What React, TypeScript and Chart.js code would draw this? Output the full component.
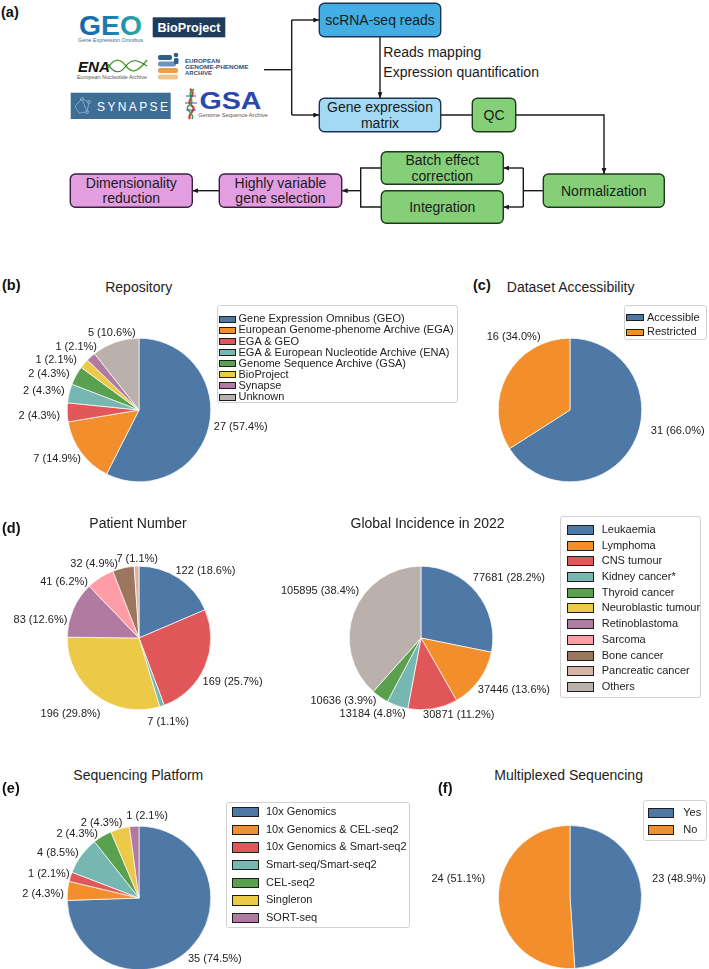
import React, { useEffect, useRef } from "react";
import { Chart, registerables } from "chart.js";

Chart.register(...registerables);

const FONT = '"Liberation Sans", Arial, Helvetica, sans-serif';
const TXT = "#222222";

const C = {
  blue: "#4e79a7",
  orange: "#f28e2b",
  red: "#e15759",
  teal: "#76b7b2",
  green: "#59a14f",
  yellow: "#edc948",
  purple: "#b07aa1",
  pink: "#ff9da7",
  brown: "#9c755f",
  tan: "#d7b5a6",
  gray: "#bab0ac",
};

// ---------- data ----------
const repoLabels = [
  "Gene Expression Omnibus (GEO)",
  "European Genome-phenome Archive (EGA)",
  "EGA & GEO",
  "EGA & European Nucleotide Archive (ENA)",
  "Genome Sequence Archive (GSA)",
  "BioProject",
  "Synapse",
  "Unknown",
];
const repoValues = [27, 7, 2, 2, 2, 1, 1, 5];
const repoColors = [C.blue, C.orange, C.red, C.teal, C.green, C.yellow, C.purple, C.gray];

const accessLabels = ["Accessible", "Restricted"];
const accessValues = [31, 16];
const accessColors = [C.blue, C.orange];

const cancerLabels = [
  "Leukaemia",
  "Lymphoma",
  "CNS tumour",
  "Kidney cancer*",
  "Thyroid cancer",
  "Neuroblastic tumour",
  "Retinoblastoma",
  "Sarcoma",
  "Bone cancer",
  "Pancreatic cancer",
  "Others",
];
const patientValues = [122, 0, 169, 7, 0, 196, 83, 41, 32, 7, 0];
const incidenceValues = [77681, 37446, 30871, 13184, 10636, 0, 0, 0, 0, 0, 105895];
const cancerColors = [C.blue, C.orange, C.red, C.teal, C.green, C.yellow, C.purple, C.pink, C.brown, C.tan, C.gray];

const platformLabels = [
  "10x Genomics",
  "10x Genomics & CEL-seq2",
  "10x Genomics & Smart-seq2",
  "Smart-seq/Smart-seq2",
  "CEL-seq2",
  "Singleron",
  "SORT-seq",
];
const platformValues = [35, 2, 1, 4, 2, 2, 1];
const platformColors = [C.blue, C.orange, C.red, C.teal, C.green, C.yellow, C.purple];

const multiplexLabels = ["Yes", "No"];
const multiplexValues = [23, 24];
const multiplexColors = [C.blue, C.orange];

// label nudges (px) from the default 1.1*r label position
const repoNudge = [[-2, -1], [5.6, 2.5], [0, 3], [2.5, -0.7], [0, 2], [-1.7, 1], [11, -4.8], [22.5, -2.7]];
const accessNudge = [[11.5, -17], [39.8, -35]];
const patientNudge = [[-7, -1.6], [0, 0], [-9, 13], [-17, 9.4], [0, 0], [9, 12.8], [0.8, 13.8], [-8.5, 10.7], [-3.8, 3.5], [21.6, 0], [0, 0]];
const incidenceNudge = [[-9.3, -9.7], [-7.2, 5.4], [-11, -0.6], [10.6, 1], [0.6, -1.5], [0, 0], [0, 0], [0, 0], [0, 0], [0, 0], [12, -18.5]];
const platformNudge = [[-7.8, 6.5], [3.5, 4], [6, -1], [3.2, 1.8], [-0.8, 3.5], [4.2, 0.7], [34.2, -3]];
const multiplexNudge = [[3.3, -15.4], [-6, -20.6]];

// ---------- pie label plugin ----------
const pieLabelPlugin = {
  id: "pieLabels",
  afterDatasetsDraw(chart: any, _args: any, opts: any) {
    const meta = chart.getDatasetMeta(0);
    const data = chart.data.datasets[0].data as number[];
    const total = data.reduce((a: number, b: number) => a + b, 0);
    const ctx = chart.ctx;
    ctx.save();
    ctx.font = `${opts.fontSize || 11}px ${FONT}`;
    ctx.fillStyle = TXT;
    ctx.textBaseline = "middle";
    meta.data.forEach((arc: any, i: number) => {
      const v = data[i];
      if (!v) return;
      const p = arc.getProps(["x", "y", "startAngle", "endAngle", "outerRadius"], true);
      const mid = (p.startAngle + p.endAngle) / 2;
      const R = p.outerRadius * 1.1;
      const px = p.x + Math.cos(mid) * R;
      const py = p.y + Math.sin(mid) * R;
      const nd = (opts.nudges && opts.nudges[i]) || [0, 0];
      ctx.textAlign = Math.cos(mid) >= 0 ? "left" : "right";
      ctx.fillText(`${v} (${((v / total) * 100).toFixed(1)}%)`, px + nd[0], py + nd[1]);
    });
    ctx.restore();
  },
};

type PieProps = {
  cx: number;
  cy: number;
  r: number;
  w: number;
  h: number;
  labels: string[];
  values: number[];
  colors: string[];
  nudges: number[][];
  fontSize?: number;
};

function PieChart({ cx, cy, r, w, h, labels, values, colors, nudges, fontSize }: PieProps) {
  const ref = useRef<HTMLCanvasElement>(null);
  const left = Math.round(cx - w / 2);
  const top = Math.round(cy - h / 2);
  useEffect(() => {
    const chart = new Chart(ref.current as HTMLCanvasElement, {
      type: "pie",
      data: {
        labels,
        datasets: [
          {
            data: values,
            backgroundColor: colors,
            borderColor: "#ffffff",
            borderWidth: 0.7,
          },
        ],
      },
      options: {
        responsive: false,
        maintainAspectRatio: false,
        animation: false,
        devicePixelRatio: 1,
        events: [],
        radius: r,
        layout: { padding: 0 },
        plugins: {
          legend: { display: false },
          tooltip: { enabled: false },
          title: { display: false },
          pieLabels: { nudges, fontSize: fontSize || 11 },
        },
      } as any,
      plugins: [pieLabelPlugin as any],
    });
    return () => chart.destroy();
  }, []);
  return (
    <canvas
      ref={ref}
      width={w}
      height={h}
      style={{ position: "absolute", left, top, width: w, height: h }}
    />
  );
}

// ---------- legend ----------
type LegendProps = {
  x0: number;
  y0: number;
  x1: number;
  y1: number;
  labels: string[];
  colors: string[];
  firstY: number;
  spacing: number;
  patchX: number;
  patchW: number;
  patchH: number;
  textX: number;
  fontSize: number;
};

function Legend(p: LegendProps) {
  return (
    <div
      style={{
        position: "absolute",
        left: p.x0,
        top: p.y0,
        width: p.x1 - p.x0,
        height: p.y1 - p.y0,
        boxSizing: "border-box",
        border: "1px solid #d2d2d2",
        borderRadius: 3,
        background: "rgba(255,255,255,0.9)",
      }}
    >
      {p.labels.map((lab, i) => {
        const yc = p.firstY + i * p.spacing - p.y0;
        return (
          <React.Fragment key={lab}>
            <div
              style={{
                position: "absolute",
                left: p.patchX - p.x0 - 1,
                top: yc - p.patchH / 2 - 1,
                width: p.patchW,
                height: p.patchH,
                background: p.colors[i],
                border: "1px solid #1e1e1e",
              }}
            />
            <div
              style={{
                position: "absolute",
                left: p.textX - p.x0 - 1,
                top: yc - 8 - 1,
                height: 16,
                lineHeight: "16px",
                fontSize: p.fontSize,
                fontFamily: FONT,
                color: TXT,
                whiteSpace: "nowrap",
              }}
            >
              {lab}
            </div>
          </React.Fragment>
        );
      })}
    </div>
  );
}

function Title({ x, y, text }: { x: number; y: number; text: string }) {
  return (
    <div
      style={{
        position: "absolute",
        left: x,
        top: y - 9,
        transform: "translateX(-50%)",
        fontFamily: FONT,
        fontSize: 14,
        lineHeight: "18px",
        color: TXT,
        whiteSpace: "nowrap",
      }}
    >
      {text}
    </div>
  );
}

function PanelLetter({ x, y, text }: { x: number; y: number; text: string }) {
  return (
    <div
      style={{
        position: "absolute",
        left: x,
        top: y - 9,
        fontFamily: FONT,
        fontWeight: "bold",
        fontSize: 14.5,
        lineHeight: "18px",
        color: "#111",
        whiteSpace: "nowrap",
      }}
    >
      {text}
    </div>
  );
}

// ---------- flowchart (panel a) ----------
type BoxDef = { x: number; y: number; w: number; h: number; fill: string; stroke: string; lines: string[] };
const boxes: BoxDef[] = [
  { x: 319.3, y: 3.3, w: 121.4, h: 33.4, fill: "#42aee4", stroke: "#1d3550", lines: ["scRNA-seq reads"] },
  { x: 319.3, y: 98.3, w: 121.4, h: 33.4, fill: "#a4d9f4", stroke: "#1d3550", lines: ["Gene expression", "matrix"] },
  { x: 472.3, y: 98.3, w: 43.4, h: 33.4, fill: "#84cf78", stroke: "#1c3a1c", lines: ["QC"] },
  { x: 543.3, y: 174, w: 121, h: 33.3, fill: "#84cf78", stroke: "#1c3a1c", lines: ["Normalization"] },
  { x: 381.3, y: 151.7, w: 122, h: 32.6, fill: "#84cf78", stroke: "#1c3a1c", lines: ["Batch effect", "correction"] },
  { x: 381.3, y: 190.7, w: 122, h: 32.6, fill: "#84cf78", stroke: "#1c3a1c", lines: ["Integration"] },
  { x: 219.3, y: 174, w: 122.4, h: 33.3, fill: "#e29ee1", stroke: "#3a1f42", lines: ["Highly variable", "gene selection"] },
  { x: 70.3, y: 174, w: 122, h: 33.3, fill: "#e29ee1", stroke: "#3a1f42", lines: ["Dimensionality", "reduction"] },
];

function Flow() {
  const L = { stroke: "#1a1a1a", strokeWidth: 1.4, fill: "none" } as const;
  const A = { ...L, markerEnd: "url(#ah)" } as const;
  return (
    <svg width={709} height={240} style={{ position: "absolute", left: 0, top: 0 }} fontFamily={FONT}>
      <defs>
        <marker id="ah" markerUnits="userSpaceOnUse" markerWidth="6" markerHeight="5" refX="6" refY="2.5" orient="auto" viewBox="0 0 6 5">
          <path d="M0,0 L6,2.5 L0,5 z" fill="#1a1a1a" />
        </marker>
        <linearGradient id="geoG" x1="0" x2="1" y1="0" y2="0">
          <stop offset="0" stopColor="#1763a8" />
          <stop offset="0.5" stopColor="#1b7fb5" />
          <stop offset="1" stopColor="#2fa89e" />
        </linearGradient>
      </defs>

      {/* connectors */}
      <path d="M264,69.7 H291.7" {...L} />
      <path d="M291.7,20 V115" {...L} />
      <path d="M291.7,20 H319.3" {...A} />
      <path d="M291.7,115 H319.3" {...A} />
      <path d="M380,36.7 V98.3" {...A} />
      <path d="M440.7,115 H472.3" {...L} />
      <path d="M515.7,115 H604 V174" {...A} />
      <path d="M543.3,190.7 H523.3" {...L} />
      <path d="M523.3,168 V207" {...L} />
      <path d="M523.3,168 H503.3" {...A} />
      <path d="M523.3,207 H503.3" {...A} />
      <path d="M381.3,168 H360.7 V207 H381.3" {...L} />
      <path d="M360.7,190.7 H341.7" {...A} />
      <path d="M219.3,190.7 H192.3" {...A} />

      {/* boxes */}
      {boxes.map((b, i) => {
        const cy = b.y + b.h / 2;
        return (
          <g key={i}>
            <rect x={b.x} y={b.y} width={b.w} height={b.h} rx={5} ry={5} fill={b.fill} stroke={b.stroke} strokeWidth={1.4} />
            {b.lines.map((t, j) => {
              const off = b.lines.length === 1 ? 0 : j === 0 ? -7.8 : 7.8;
              return (
                <text key={j} x={b.x + b.w / 2} y={cy + off + 5} textAnchor="middle" fontSize={14} fill="#1a1a1a">
                  {t}
                </text>
              );
            })}
          </g>
        );
      })}

      <text x={383.3} y={56.7} fontSize={14} fill="#1a1a1a">Reads mapping</text>
      <text x={383.3} y={77.3} fontSize={14} fill="#1a1a1a">Expression quantification</text>

      {/* logos (approximations) */}
      {/* GEO */}
      <text x={79} y={35} fontSize={27} fontWeight="bold" fill="url(#geoG)" textLength={63} lengthAdjust="spacingAndGlyphs">GEO</text>
      <text x={78} y={41.5} fontSize={5.2} fill="#3d6b98" textLength={65} lengthAdjust="spacingAndGlyphs">Gene Expression Omnibus</text>
      {/* BioProject */}
      <rect x={152.7} y={17.3} width={72.6} height={20} fill="#1f3b5c" />
      <text x={157.5} y={32} fontSize={12.5} fontWeight="bold" fill="#ffffff" textLength={63} lengthAdjust="spacingAndGlyphs">BioProject</text>
      {/* ENA */}
      <text x={78} y={72} fontSize={15} fontWeight="bold" fontStyle="italic" fill="#111" textLength={32} lengthAdjust="spacingAndGlyphs">ENA</text>
      <path d="M108,68 C114,58 120,58 126,66 C132,74 138,72 147,60" stroke="#5aa83a" strokeWidth={1.6} fill="none" />
      <path d="M108,64 C114,74 120,74 126,66 C132,58 138,60 147,66" stroke="#2f7d2a" strokeWidth={1.2} fill="none" />
      <text x={77} y={78.5} fontSize={4.8} fill="#555" textLength={70} lengthAdjust="spacingAndGlyphs">European Nucleotide Archive</text>
      {/* EGA */}
      <rect x={158} y={55} width={14} height={5} rx={2} fill="#2f5d8c" />
      <rect x={158} y={61.5} width={18} height={5} rx={2} fill="#6a93c0" />
      <rect x={158} y={68} width={20} height={5} rx={2} fill="#e9a04c" />
      <rect x={158} y={74.5} width={20} height={5} rx={2} fill="#eec58c" />
      <circle cx={176} cy={55} r={2.3} fill="#2f5d8c" />
      <rect x={174} y={58} width={4.5} height={6} rx={1.5} fill="#2f5d8c" />
      <text x={185} y={63} fontSize={5.4} fontWeight="bold" fill="#34507a" textLength={35} lengthAdjust="spacingAndGlyphs">EUROPEAN</text>
      <text x={185} y={68.8} fontSize={5.4} fontWeight="bold" fill="#34507a" textLength={63.5} lengthAdjust="spacingAndGlyphs">GENOME-PHENOME</text>
      <text x={185} y={74.8} fontSize={5.4} fontWeight="bold" fill="#34507a" textLength={27} lengthAdjust="spacingAndGlyphs">ARCHIVE</text>
      {/* SYNAPSE */}
      <rect x={70.7} y={92.7} width={100} height={26.3} fill="#3e6e95" />
      <g stroke="#7ea2c2" strokeWidth={1} fill="none">
        <path d="M75,106 L82,99 L89,102 L87,112 L79,113 Z" />
        <path d="M82,99 L87,112" />
        <circle cx={82} cy={99} r={1.6} />
        <circle cx={89} cy={102} r={1.6} />
        <circle cx={87} cy={112} r={1.6} />
      </g>
      <text x={97} y={110.5} fontSize={12} fill="#ffffff" textLength={71} lengthAdjust="spacing">SYNAPSE</text>
      {/* GSA */}
      <path d="M190,89 C198,95 184,101 192,106 C198,110 186,114 190,119" stroke="#d93a2a" strokeWidth={2.2} fill="none" />
      <path d="M194,89 C184,95 198,101 188,106 C184,110 196,114 192,119" stroke="#3aa94a" strokeWidth={1.6} fill="none" />
      <path d="M186,96 L196,96 M185,103 L197,103 M186,110 L196,110" stroke="#3056b8" strokeWidth={1} />
      <text x={199.5} y={109} fontSize={23} fontWeight="bold" fill="#2a47b0" textLength={62} lengthAdjust="spacingAndGlyphs">GSA</text>
      <text x={198.3} y={116.8} fontSize={5} fill="#555" textLength={69.4} lengthAdjust="spacingAndGlyphs">Genome Sequence Archive</text>
    </svg>
  );
}

export default function App() {
  useEffect(() => {
    document.body.style.margin = "0";
    document.body.style.overflow = "hidden";
  }, []);
  return (
    <div
      style={{
        position: "absolute",
        left: 0,
        top: 0,
        width: 709,
        height: 969,
        overflow: "hidden",
        background: "#ffffff",
        fontFamily: FONT,
      }}
    >
      <Flow />
      <PanelLetter x={1} y={11.7} text="(a)" />

      {/* pies */}
      <PieChart cx={139.3} cy={410} r={71.8} w={300} h={220} labels={repoLabels} values={repoValues} colors={repoColors} nudges={repoNudge} />
      <PieChart cx={569.7} cy={410} r={71.8} w={300} h={220} labels={accessLabels} values={accessValues} colors={accessColors} nudges={accessNudge} />
      <PieChart cx={139.3} cy={637.5} r={71.8} w={300} h={220} labels={cancerLabels} values={patientValues} colors={cancerColors} nudges={patientNudge} />
      <PieChart cx={421.3} cy={637.5} r={71.8} w={320} h={220} labels={cancerLabels} values={incidenceValues} colors={cancerColors} nudges={incidenceNudge} />
      <PieChart cx={139.3} cy={897.7} r={71.8} w={300} h={220} labels={platformLabels} values={platformValues} colors={platformColors} nudges={platformNudge} />
      <PieChart cx={569.7} cy={897} r={71.6} w={300} h={200} labels={multiplexLabels} values={multiplexValues} colors={multiplexColors} nudges={multiplexNudge} />

      {/* titles */}
      <Title x={138.7} y={287} text="Repository" />
      <Title x={570.6} y={287} text="Dataset Accessibility" />
      <Title x={138} y={523.3} text="Patient Number" />
      <Title x={427.6} y={523.3} text="Global Incidence in 2022" />
      <Title x={138.3} y={775} text="Sequencing Platform" />
      <Title x={568.6} y={775} text="Multiplexed Sequencing" />

      <PanelLetter x={2} y={285} text="(b)" />
      <PanelLetter x={473} y={285} text="(c)" />
      <PanelLetter x={2} y={528.3} text="(d)" />
      <PanelLetter x={2} y={788.3} text="(e)" />
      <PanelLetter x={438} y={788} text="(f)" />

      {/* legends */}
      <Legend x0={217} y0={305} x1={458.3} y1={403} labels={repoLabels} colors={repoColors} firstY={318.3} spacing={11.1} patchX={218.5} patchW={15.5} patchH={5} textX={238.5} fontSize={11} />
      <Legend x0={623.5} y0={305} x1={707.2} y1={340} labels={accessLabels} colors={accessColors} firstY={316.7} spacing={14.3} patchX={625.8} patchW={16.7} patchH={5} textX={647} fontSize={11} />
      <Legend x0={560} y0={515.7} x1={701} y1={697.7} labels={cancerLabels} colors={cancerColors} firstY={529} spacing={15.7} patchX={566.7} patchW={25.6} patchH={8} textX={601.7} fontSize={11} />
      <Legend x0={226} y0={801.7} x1={409.5} y1={928.3} labels={platformLabels} colors={platformColors} firstY={811} spacing={17.7} patchX={231.7} patchW={25} patchH={8.3} textX={266} fontSize={11} />
      <Legend x0={643.3} y0={800} x1={707.3} y1={840.7} labels={multiplexLabels} colors={multiplexColors} firstY={812} spacing={17} patchX={648.3} patchW={24} patchH={8.3} textX={683.3} fontSize={11} />
    </div>
  );
}
